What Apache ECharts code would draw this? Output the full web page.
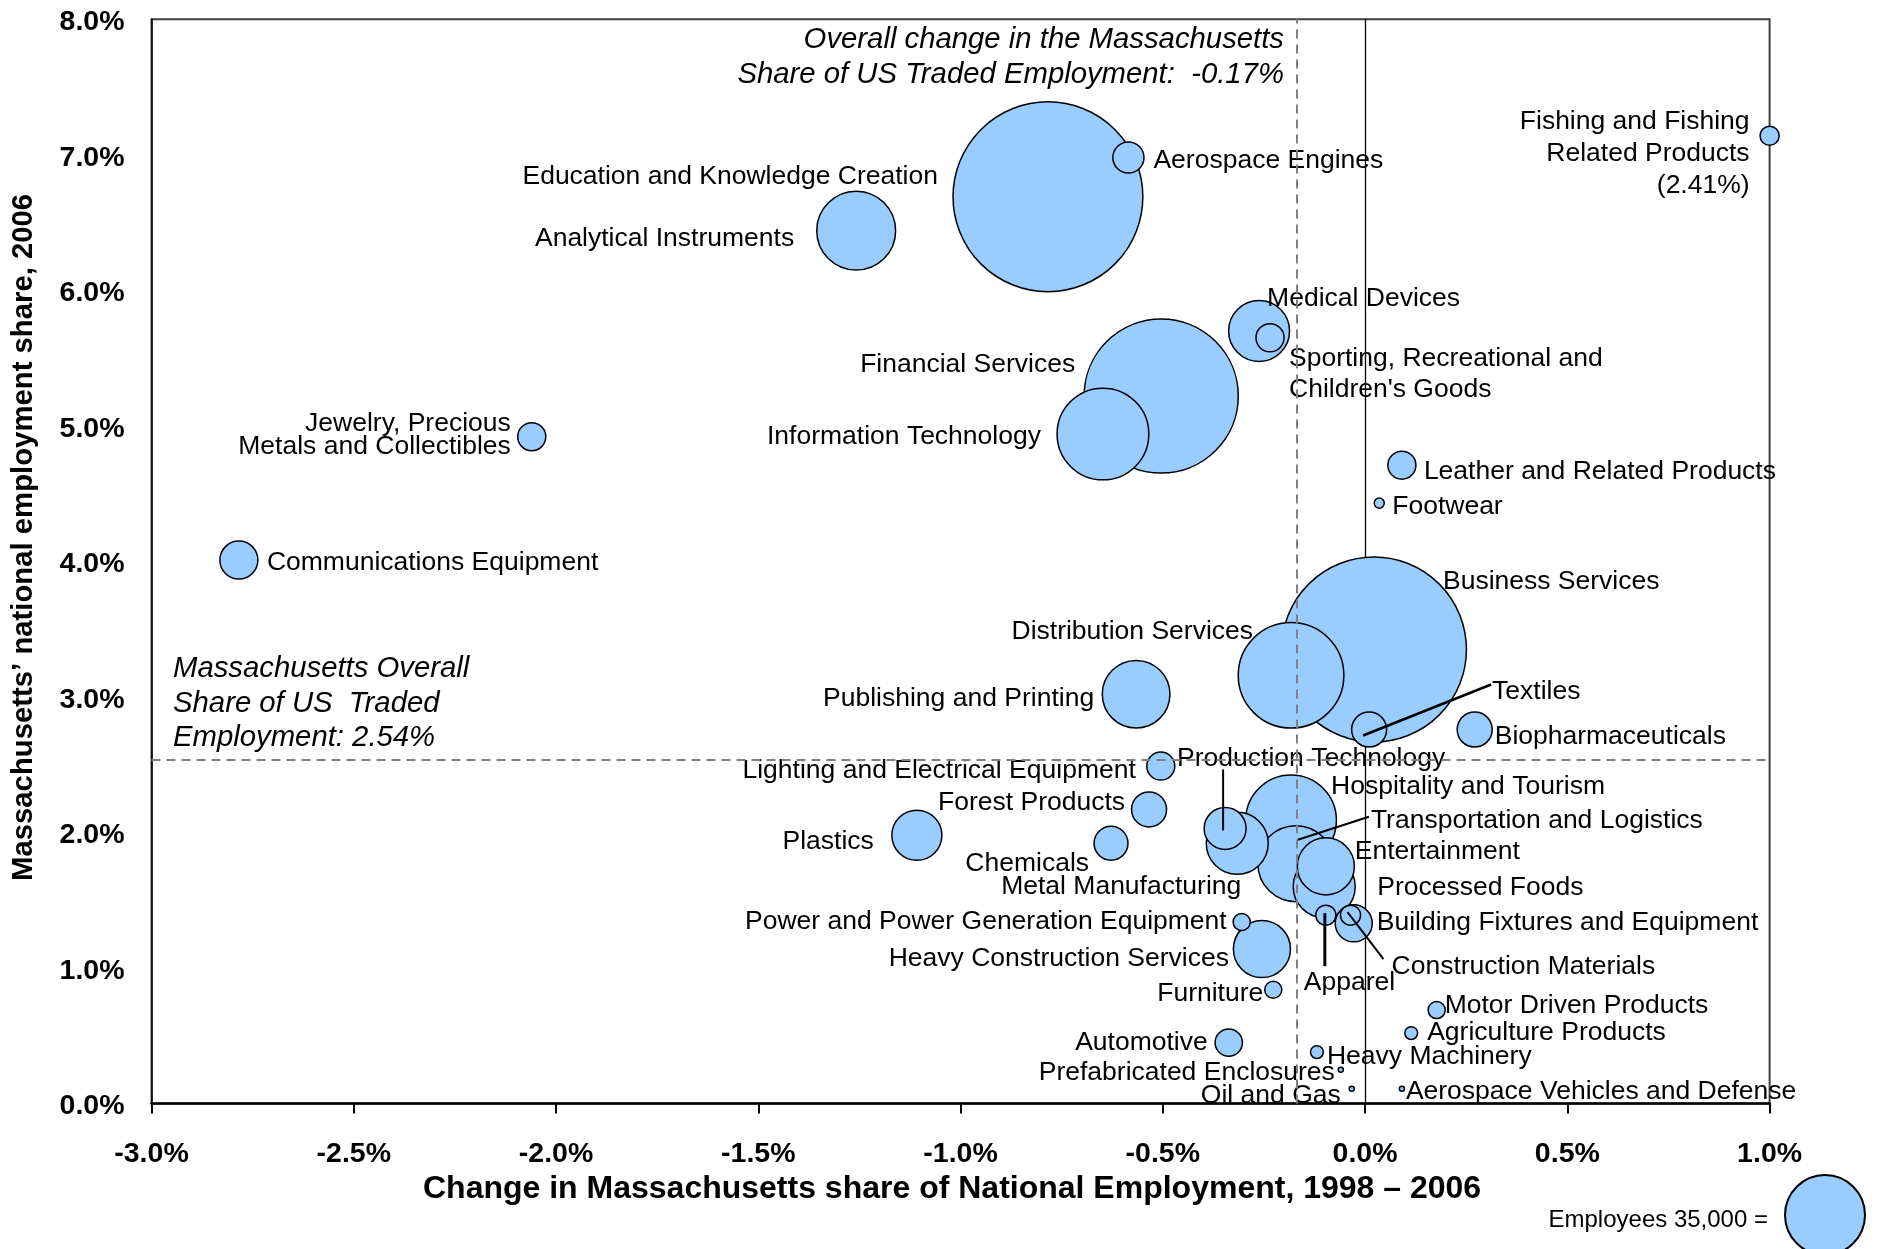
<!DOCTYPE html>
<html>
<head>
<meta charset="utf-8">
<title>Massachusetts traded clusters</title>
<script src="https://cdn.jsdelivr.net/npm/echarts@6/dist/echarts.min.js"></script>
<style>
  html, body { margin: 0; padding: 0; background: #fff; }
  #chart { width: 1885px; height: 1249px; }
</style>
</head>
<body>
<div id="chart"></div>
<script>
// 集群名称
var clusters = [
    'Education and Knowledge Creation', 'Aerospace Engines', 'Analytical Instruments',
    'Medical Devices', "Sporting, Recreational and Children's Goods", 'Financial Services',
    'Information Technology', 'Jewelry, Precious Metals and Collectibles', 'Communications Equipment',
    'Fishing and Fishing Related Products', 'Leather and Related Products', 'Footwear',
    'Business Services', 'Distribution Services', 'Publishing and Printing',
    'Textiles', 'Biopharmaceuticals', 'Lighting and Electrical Equipment',
    'Production Technology', 'Forest Products', 'Hospitality and Tourism',
    'Transportation and Logistics', 'Metal Manufacturing', 'Entertainment',
    'Processed Foods', 'Apparel', 'Construction Materials',
    'Building Fixtures and Equipment', 'Power and Power Generation Equipment', 'Heavy Construction Services',
    'Furniture', 'Motor Driven Products', 'Agriculture Products',
    'Heavy Machinery', 'Prefabricated Enclosures', 'Oil and Gas',
    'Aerospace Vehicles and Defense', 'Plastics', 'Chemicals',
    'Automotive'
];
// change in MA share of national employment 1998-2006 (%)
var shareChange = [
    -0.784, -0.585, -1.258,
    -0.262, -0.235, -0.504,
    -0.648, -2.060, -2.784,
    2.41, 0.091, 0.035,
    0.022, -0.183, -0.566,
    0.010, 0.271, -0.505,
    -0.346, -0.534, -0.183,
    -0.171, -0.316, -0.097,
    -0.101, -0.097, -0.036,
    -0.028, -0.305, -0.255,
    -0.227, 0.177, 0.114,
    -0.119, -0.060, -0.033,
    0.091, -1.108, -0.628,
    -0.337
];
// MA national employment share 2006 (%)
var share2006 = [
    6.69, 6.98, 6.44,
    5.70, 5.65, 5.22,
    4.94, 4.92, 4.01,
    7.14, 4.71, 4.43,
    3.35, 3.16, 3.02,
    2.76, 2.76, 2.49,
    2.03, 2.17, 2.09,
    1.77, 1.92, 1.75,
    1.60, 1.39, 1.39,
    1.33, 1.34, 1.14,
    0.84, 0.69, 0.52,
    0.38, 0.25, 0.11,
    0.11, 1.98, 1.92,
    0.45
];
// employees 2006
var employees = [
    197000, 5300, 34000,
    20300, 4300, 130000,
    46000, 4300, 7900,
    2000, 4300, 550,
    187000, 61000, 25000,
    6700, 6700, 4300,
    9600, 6700, 45000,
    31600, 21000, 17800,
    21000, 2200, 2200,
    7500, 1600, 17800,
    1600, 1600, 900,
    900, 140, 140,
    140, 13700, 6300,
    4100
];

var overallChange = -0.17;
var overallShare = 2.54;
var legendEmployees = 35000;

var X_MIN = -3, X_MAX = 1;
var FONT = '"Liberation Sans", Arial, sans-serif';

// 标签位置：相对气泡中心的像素偏移 [dx, dy, 对齐, 行高]
var labelPlace = {
    'Education and Knowledge Creation': [-110, -23, 'right'],
    'Aerospace Engines': [25, 0, 'left'],
    'Analytical Instruments': [-62, 5, 'right'],
    'Medical Devices': [8, -35, 'left'],
    "Sporting, Recreational and Children's Goods": [19, 33, 'left', 31],
    'Financial Services': [-86, -34, 'right'],
    'Information Technology': [-62, 0, 'right'],
    'Jewelry, Precious Metals and Collectibles': [-21, -5, 'right', 23],
    'Communications Equipment': [28, 0, 'left'],
    'Fishing and Fishing Related Products': [-20, 15, 'right', 32],
    'Leather and Related Products': [22, 4, 'left'],
    'Footwear': [13, 1, 'left'],
    'Business Services': [69, -71, 'left'],
    'Distribution Services': [-38, -47, 'right'],
    'Publishing and Printing': [-42, 1, 'right'],
    'Textiles': [123, -41, 'left'],
    'Biopharmaceuticals': [20, 4, 'left'],
    'Lighting and Electrical Equipment': [-25, 2, 'right'],
    'Production Technology': [-48, -73, 'left'],
    'Forest Products': [-24, -10, 'right'],
    'Hospitality and Tourism': [40, -37, 'left'],
    'Transportation and Logistics': [75, -46, 'left'],
    'Metal Manufacturing': [4, 40, 'right'],
    'Entertainment': [29, -18, 'left'],
    'Processed Foods': [53, -2, 'left'],
    'Apparel': [-22, 65, 'left'],
    'Construction Materials': [41, 49, 'left'],
    'Building Fixtures and Equipment': [23, -4, 'left'],
    'Power and Power Generation Equipment': [-15, -3, 'right'],
    'Heavy Construction Services': [-33, 7, 'right'],
    'Furniture': [-10, 1, 'right'],
    'Motor Driven Products': [8, -7, 'left'],
    'Agriculture Products': [16, -3, 'left'],
    'Heavy Machinery': [10, 2, 'left'],
    'Prefabricated Enclosures': [-6, 0, 'right'],
    'Oil and Gas': [-11, 4, 'right'],
    'Aerospace Vehicles and Defense': [4, 0, 'left'],
    'Plastics': [-43, 3, 'right'],
    'Chemicals': [-22, 17, 'right'],
    'Automotive': [-21, -3, 'right']
};

// 换行显示
var labelText = {
    "Sporting, Recreational and Children's Goods": "Sporting, Recreational and\nChildren's Goods",
    'Jewelry, Precious Metals and Collectibles': 'Jewelry, Precious\nMetals and Collectibles',
    'Fishing and Fishing Related Products': 'Fishing and Fishing\nRelated Products'
};

// 引线：[起点dx, 起点dy, 终点dx, 终点dy, 线宽]
var leaders = {
    'Textiles': [-6, 6, 122, -45, 2.5],
    'Production Technology': [-2, 2, -2, -59, 2],
    'Transportation and Logistics': [2, -24, 73, -47, 2],
    'Apparel': [-1, -2, -1, 51, 3],
    'Construction Materials': [-3, -3, 33, 44, 2]
};

function bubbleSize(emp) {
    return 80 * Math.sqrt(emp / 35000);
}

var points = clusters.map(function(name, i) {
    var p = labelPlace[name];
    var x = shareChange[i];
    var txt = labelText[name] || name;
    if (x > X_MAX) txt += '\n(' + x.toFixed(2) + '%)';
    return {
        name: name,
        value: [Math.min(x, X_MAX), share2006[i], employees[i]],
        label: {
            align: p[2],
            offset: [p[0], p[1] + 3],
            lineHeight: p[3] || 30,
            formatter: txt
        }
    };
});
// 大气泡先画，小气泡在上
points.sort(function(a, b) { return b.value[2] - a.value[2]; });

var pctFmt = function(v) { return v.toFixed(1) + '%'; };

var chart = echarts.init(document.getElementById('chart'));

var option = {
    animation: false,
    backgroundColor: '#fff',
    textStyle: { fontFamily: FONT },
    grid: {
        left: 151.5, right: 115.4, top: 19.2, bottom: 145.4,
        show: true, borderColor: '#404040', borderWidth: 2,
        outerBoundsMode: 'none'
    },
    xAxis: {
        type: 'value', min: X_MIN, max: X_MAX, interval: 0.5,
        axisLine: { lineStyle: { color: '#000', width: 2.5 } },
        axisTick: { show: true, length: 10, lineStyle: { color: '#000', width: 2 } },
        splitLine: { show: false },
        axisLabel: { formatter: pctFmt, fontSize: 28.5, fontWeight: 'bold', color: '#000', margin: 36, fontFamily: FONT },
        name: 'Change in Massachusetts share of National Employment, 1998 \u2013 2006',
        nameLocation: 'middle', nameGap: 67,
        nameTextStyle: { fontSize: 32, fontWeight: 'bold', color: '#000', fontFamily: FONT, padding: [0, 17, 0, 0] }
    },
    yAxis: {
        type: 'value', min: 0, max: 8, interval: 1,
        axisLine: { onZero: false, lineStyle: { color: '#000', width: 1.5 } },
        axisTick: { show: false },
        splitLine: { show: false },
        axisLabel: {
            formatter: pctFmt, fontSize: 28.5, fontWeight: 'bold', color: '#000', margin: 27, fontFamily: FONT,
            verticalAlign: 'top', lineHeight: 6
        },
        name: 'Massachusetts\u2019 national employment share, 2006',
        nameLocation: 'middle', nameGap: 113,
        nameTextStyle: { fontSize: 29.3, fontWeight: 'bold', color: '#000', fontFamily: FONT, padding: [0, 0, 0, 48] }
    },
    series: [{
        // x = 0 参考线（在气泡下面）
        type: 'line',
        data: [],
        z: 1,
        markLine: {
            z: 1, silent: true, animation: false,
            symbol: ['none', 'none'],
            label: { show: false },
            lineStyle: { type: 'solid', color: '#000', width: 1.3 },
            data: [{ xAxis: 0 }]
        }
    }, {
        type: 'scatter',
        data: points,
        clip: false,
        symbolSize: function(v) { return bubbleSize(v[2]); },
        itemStyle: { color: '#99CCFF', borderColor: '#000', borderWidth: 1.5, opacity: 1 },
        label: {
            show: true, position: 'inside', verticalAlign: 'middle', color: '#000',
            fontSize: 26.5, fontFamily: FONT
        },
        emphasis: { disabled: true },
        markLine: {
            silent: true, animation: false,
            symbol: ['none', 'none'],
            label: { show: false },
            lineStyle: { type: [9, 6], color: '#808080', width: 2 },
            data: [{ xAxis: overallChange }, { yAxis: overallShare }]
        }
    }]
};

chart.setOption(option);

// 注释文字、图例与引线
var graphics = [{
    type: 'text', z: 10,
    style: {
        text: 'Overall change in the Massachusetts\nShare of US Traded Employment:  ' + overallChange.toFixed(2) + '%',
        x: 1284, y: 57, align: 'right', verticalAlign: 'middle',
        font: 'italic 29.3px ' + FONT, lineHeight: 35, fill: '#000'
    }
}, {
    type: 'text', z: 10,
    style: {
        text: 'Massachusetts Overall\nShare of US  Traded\nEmployment: ' + overallShare.toFixed(2) + '%',
        x: 173, y: 703.5, align: 'left', verticalAlign: 'middle',
        font: 'italic 29.3px ' + FONT, lineHeight: 34.5, fill: '#000'
    }
}, {
    type: 'text', z: 10,
    style: {
        text: 'Employees ' + legendEmployees.toLocaleString('en-US') + ' =',
        x: 1768, y: 1220, align: 'right', verticalAlign: 'middle',
        font: '24px ' + FONT, fill: '#000'
    }
}, {
    type: 'circle', z: 10,
    shape: { cx: 1825, cy: 1215, r: bubbleSize(legendEmployees) / 2 },
    style: { fill: '#99CCFF', stroke: '#000', lineWidth: 2 }
}];

Object.keys(leaders).forEach(function(name) {
    var i = clusters.indexOf(name);
    var c = chart.convertToPixel({ seriesIndex: 1 }, [Math.min(shareChange[i], X_MAX), share2006[i]]);
    var l = leaders[name];
    graphics.push({
        type: 'line', z: 10,
        shape: { x1: c[0] + l[0], y1: c[1] + l[1], x2: c[0] + l[2], y2: c[1] + l[3] },
        style: { stroke: '#000', lineWidth: l[4] }
    });
});

chart.setOption({ graphic: graphics });

window.addEventListener('resize', function() {
    chart.resize();
});
</script>
</body>
</html>
